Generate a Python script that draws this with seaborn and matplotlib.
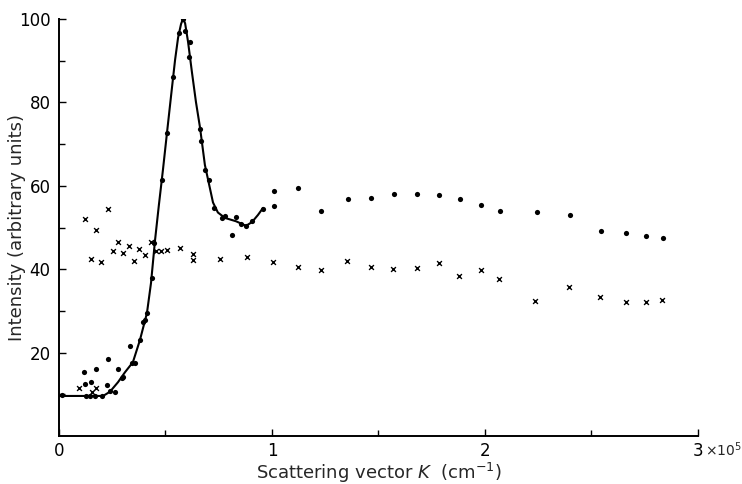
import matplotlib
matplotlib.use("Agg")
import matplotlib.pyplot as plt
import pandas as pd
import seaborn as sns

# scattering vector K in units of 1e5 cm^-1, intensity in arbitrary units
dots_k = [0.014, 0.117, 0.122, 0.127, 0.146, 0.150, 0.169, 0.174, 0.202, 0.225,
          0.230, 0.239, 0.263, 0.277, 0.296, 0.300, 0.333, 0.343, 0.357, 0.380,
          0.394, 0.404, 0.413, 0.437, 0.446, 0.484, 0.507, 0.535, 0.563, 0.582,
          0.592, 0.615, 0.610, 0.662, 0.667, 0.685, 0.704, 0.728, 0.765, 0.779,
          0.812, 0.831, 0.854, 0.878, 0.906, 0.958, 1.009, 1.009, 1.122, 1.230,
          1.357, 1.465, 1.573, 1.681, 1.784, 1.883, 1.981, 2.070, 2.244, 2.399,
          2.545, 2.662, 2.756, 2.836]
dots_i = [9.8, 15.3, 12.5, 9.6, 9.6, 12.9, 9.6, 16.1, 9.6, 12.2,
          18.5, 10.8, 10.6, 16.1, 13.9, 14.1, 21.6, 17.5, 17.5, 23.0,
          27.3, 27.8, 29.5, 37.9, 46.3, 61.4, 72.7, 86.1, 96.6, 100.0,
          97.1, 94.5, 90.9, 73.6, 70.7, 63.8, 61.4, 54.7, 52.3, 52.8,
          48.2, 52.5, 50.8, 50.4, 51.5, 54.4, 58.8, 55.2, 59.5, 54.0,
          56.8, 57.1, 58.0, 58.0, 57.8, 56.8, 55.4, 54.0, 53.7, 53.0,
          49.2, 48.7, 48.0, 47.5]

cross_k = [0.094, 0.155, 0.174, 0.122, 0.230, 0.174, 0.150, 0.197, 0.254, 0.277,
           0.300, 0.329, 0.352, 0.376, 0.404, 0.432, 0.455, 0.479, 0.507, 0.568,
           0.629, 0.629, 0.756, 0.883, 1.005, 1.122, 1.230, 1.352, 1.465, 1.568,
           1.681, 1.784, 1.878, 1.981, 2.066, 2.235, 2.394, 2.540, 2.662, 2.756,
           2.831]
cross_i = [11.5, 10.6, 11.5, 52.0, 54.4, 49.4, 42.4, 41.7, 44.4, 46.5,
           43.9, 45.6, 42.0, 44.8, 43.4, 46.5, 44.4, 44.4, 44.6, 45.1,
           43.6, 42.2, 42.4, 42.9, 41.7, 40.5, 39.8, 42.0, 40.5, 40.0,
           40.3, 41.5, 38.4, 39.8, 37.6, 32.4, 35.7, 33.3, 32.1, 32.1,
           32.6]

# hand-drawn fit through the dots
curve_k = [0.0, 0.207, 0.239, 0.277, 0.310, 0.347, 0.380, 0.413, 0.432, 0.451,
           0.469, 0.488, 0.507, 0.526, 0.545, 0.559, 0.573, 0.582, 0.592, 0.606,
           0.624, 0.643, 0.662, 0.685, 0.704, 0.723, 0.746, 0.779, 0.831, 0.878,
           0.906, 0.934, 0.958]
curve_i = [9.6, 9.6, 10.6, 12.9, 15.3, 17.7, 23.0, 29.5, 36.7, 47.0,
           55.4, 63.8, 72.7, 81.5, 90.2, 95.5, 98.8, 100.0, 99.0, 94.5,
           87.3, 80.1, 74.0, 65.0, 60.5, 56.0, 53.6, 52.3, 51.5, 50.4,
           51.3, 53.0, 54.7]

sns.set_style("ticks")
plt.rcParams['font.family'] = ['DejaVu Sans']

fig = plt.figure(figsize=(7.42, 4.84), dpi=100)
ax = fig.add_axes([0.0795, 0.0992, 0.8612, 0.8615])

curve = pd.DataFrame({"k": curve_k, "i": curve_i})
sns.lineplot(data=curve, x="k", y="i", sort=False, estimator=None,
             color="black", linewidth=1.5, ax=ax)
sns.scatterplot(x=dots_k, y=dots_i, marker="o", s=14, color="black",
                edgecolor="black", linewidth=0, ax=ax)
sns.scatterplot(x=cross_k, y=cross_i, marker="x", s=12, color="black",
                linewidth=1.0, ax=ax)

ax.set_xlim(0, 3)
ax.set_ylim(0, 100)
ax.set_xticks([0, 1, 2, 3])
ax.set_xticklabels(["0", "1", "2", "3"])
ax.set_xticks([0.5, 1.5, 2.5], minor=True)
ax.set_yticks([20, 40, 60, 80, 100])
ax.set_yticks([10, 30, 50, 70, 90], minor=True)
ax.tick_params(which="both", direction="in", width=1.0, labelsize=12,
               color="black", labelcolor="black")
ax.tick_params(which="major", length=5, pad=6)
ax.tick_params(axis="x", which="major", pad=4)
ax.tick_params(which="minor", length=4)
for s in ["top", "right"]:
    ax.spines[s].set_visible(False)
for s in ["left", "bottom"]:
    ax.spines[s].set_linewidth(1.4)
    ax.spines[s].set_color("black")

ax.text(3.035, -0.034, r"$\times$10$^5$", transform=ax.get_xaxis_transform(),
        ha="left", va="center", fontsize=10)
ax.set_xlabel("Scattering vector $K$  (cm$^{-1}$)", fontsize=13, labelpad=1)
ax.set_ylabel("Intensity (arbitrary units)", fontsize=13)
ax.yaxis.set_label_coords(-0.052, 0.5)

fig.savefig("out.png", dpi=100)
